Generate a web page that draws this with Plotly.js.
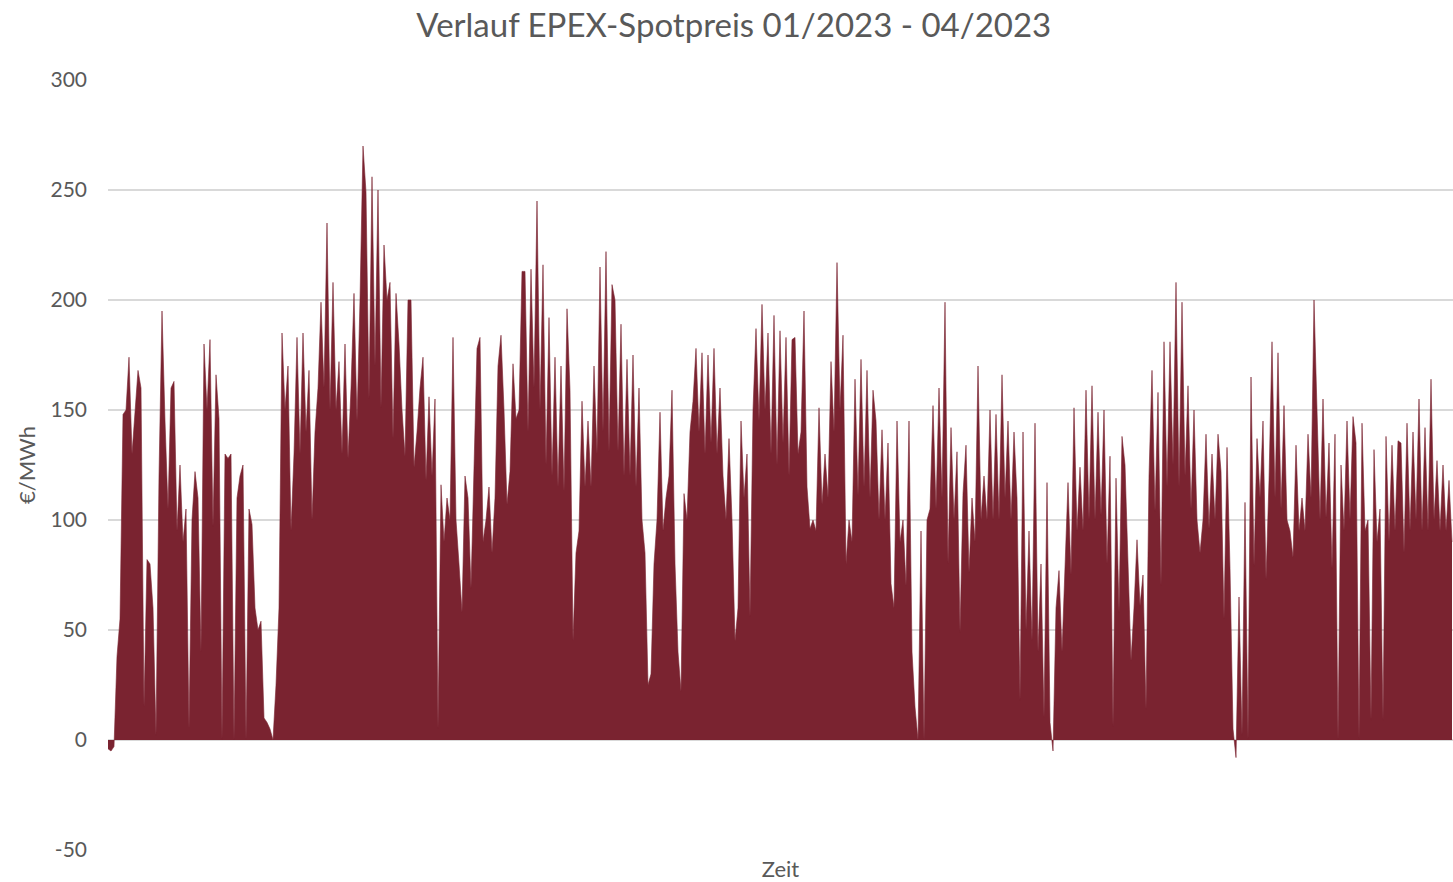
<!DOCTYPE html>
<html>
<head>
<meta charset="utf-8">
<script src="https://cdn.plot.ly/plotly-3.0.1.min.js"></script>
<style>html,body{margin:0;padding:0;background:#fff;}#chart{width:1453px;height:882px;}</style>
</head>
<body>
<div id="chart"></div>
<script>
// EPEX spot price samples (€/MWh), Jan–Apr 2023, in time order
const prices = [
  -4, -5, -3, 38, 55, 148, 150, 174, 130, 150,
  168, 160, 15, 82, 80, 60, 2, 120, 195, 145,
  105, 160, 163, 95, 125, 90, 105, 5, 100, 122,
  110, 40, 180, 150, 182, 97, 166, 146, 0, 130,
  128, 130, 0, 110, 120, 125, 0, 105, 98, 60,
  50, 54, 10, 8, 5, 0, 25, 60, 185, 150,
  170, 95, 130, 183, 130, 185, 140, 168, 100, 140,
  160, 199, 160, 235, 150, 208, 150, 172, 130, 180,
  128, 160, 203, 145, 200, 270, 249, 155, 256, 170,
  250, 151, 225, 200, 208, 137, 203, 180, 150, 129,
  200, 200, 124, 140, 160, 174, 118, 156, 120, 155,
  5, 116, 90, 110, 100, 183, 100, 80, 58, 120,
  110, 69, 130, 178, 183, 90, 100, 115, 85, 110,
  170, 184, 150, 107, 122, 171, 146, 150, 213, 213,
  140, 214, 160, 245, 150, 216, 125, 192, 120, 174,
  115, 170, 113, 196, 159, 45, 85, 95, 154, 115,
  145, 115, 170, 130, 215, 140, 222, 131, 207, 200,
  131, 189, 120, 173, 120, 175, 115, 160, 100, 85,
  25, 30, 80, 100, 149, 95, 110, 120, 159, 80,
  40, 22, 112, 100, 140, 154, 178, 140, 176, 130,
  175, 135, 178, 130, 160, 120, 100, 137, 100, 45,
  60, 145, 110, 130, 56, 150, 187, 145, 198, 150,
  185, 130, 193, 125, 186, 135, 183, 120, 182, 183,
  130, 140, 195, 115, 96, 100, 95, 151, 107, 130,
  110, 172, 140, 217, 150, 184, 80, 100, 90, 164,
  111, 173, 115, 168, 110, 159, 145, 100, 141, 100,
  135, 71, 60, 145, 90, 100, 70, 145, 40, 15,
  0, 95, 0, 100, 105, 152, 105, 160, 110, 199,
  80, 142, 100, 131, 49, 112, 134, 76, 110, 90,
  170, 100, 120, 100, 150, 100, 148, 100, 166, 110,
  145, 100, 140, 110, 18, 140, 50, 95, 45, 144,
  40, 80, 10, 117, 8, -5, 60, 77, 40, 79,
  117, 75, 151, 95, 124, 95, 159, 100, 161, 100,
  149, 102, 150, 80, 129, 6, 119, 58, 138, 125,
  80, 36, 60, 91, 61, 75, 14, 120, 168, 104,
  158, 70, 181, 115, 181, 125, 208, 115, 199, 120,
  161, 105, 150, 100, 85, 100, 139, 96, 130, 100,
  139, 122, 55, 133, 78, 5, -8, 65, 2, 108,
  0, 165, 79, 137, 110, 145, 73, 118, 181, 110,
  176, 105, 152, 100, 95, 83, 134, 95, 110, 95,
  139, 110, 200, 143, 100, 155, 101, 135, 78, 139,
  0, 125, 95, 145, 100, 147, 135, 0, 144, 95,
  100, 9, 132, 90, 105, 9, 138, 90, 134, 95,
  136, 135, 85, 144, 95, 140, 100, 155, 95, 142,
  95, 164, 100, 127, 95, 125, 95, 118, 90
];
const chartTitle = "Verlauf EPEX-Spotpreis 01/2023 - 04/2023";
const xTitle = "Zeit";
const yTitle = "€/MWh";
const yTicks = [-50, 0, 50, 100, 150, 200, 250, 300];

const xs = prices.map((_, i) => i);
const textColor = "#595959";
const fontFam = "Lato, 'Open Sans', 'Liberation Sans', sans-serif";

const trace = {
  x: xs,
  y: prices,
  type: "scatter",
  mode: "lines",
  fill: "tozeroy",
  fillcolor: "#7a2330",
  line: { color: "#7a2330", width: 0.6 },
  hoverinfo: "skip"
};

const layout = {
  width: 1453,
  height: 882,
  paper_bgcolor: "#ffffff",
  plot_bgcolor: "#ffffff",
  margin: { l: 108, r: 0, t: 80, b: 32, pad: 0 },
  showlegend: false,
  title: {
    text: chartTitle,
    font: { family: fontFam, size: 33, color: textColor },
    x: 0.505, xanchor: "center",
    y: 1 - 25 / 882, yanchor: "middle", yref: "container"
  },
  xaxis: {
    range: [0, prices.length - 1 + 0.33],
    showticklabels: false,
    showgrid: false,
    zeroline: false,
    showline: false,
    ticks: "",
    title: { text: xTitle, font: { family: fontFam, size: 22, color: textColor }, standoff: 12 },
    automargin: false
  },
  yaxis: {
    range: [-50, 300],
    tickvals: yTicks,
    ticktext: yTicks.map(String),
    tickfont: { family: fontFam, size: 21, color: textColor },
    showgrid: true,
    gridcolor: "#d9d9d9",
    gridwidth: 1.5,
    zeroline: false,
    showline: false,
    ticks: "",
    ticklabelstandoff: 20,
    title: { text: yTitle, font: { family: fontFam, size: 22, color: textColor }, standoff: 8 },
    automargin: false
  }
};

Plotly.newPlot("chart", [trace], layout, { displayModeBar: false, staticPlot: true });
</script>
</body>
</html>
